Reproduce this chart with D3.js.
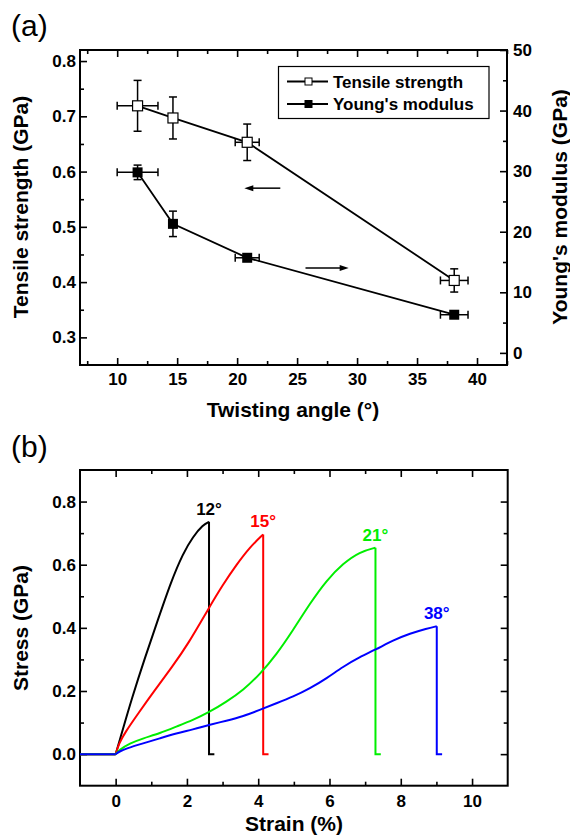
<!DOCTYPE html>
<html>
<head>
<meta charset="utf-8">
<script src="https://cdn.jsdelivr.net/npm/d3@7"></script>
<style>
  body { margin: 0; background: #fff; }
  svg { display: block; font-family: "Liberation Sans", Arial, sans-serif; }
</style>
</head>
<body>
<svg id="chart" width="570" height="836"></svg>
<script>
// panel (a) data
var angles = [11.7, 14.65, 20.84, 38.1];
var angleErr = [1.7, 0.3, 1.0, 1.15];
var tensile = [0.719, 0.697, 0.653, 0.403];
var tensileErr = [0.046, 0.038, 0.033, 0.021];
var modulus = [29.8, 21.3, 15.7, 6.3];
var modulusErr = [1.2, 2.1, 0.4, 0.4];
var legendLabels = ["Tensile strength", "Young's modulus"];

// panel (b) data: stress-strain curves
var curveLabels = ["12°", "15°", "21°", "38°"];
var curveColors = ["#000000", "#ff0000", "#00ee00", "#0000ff"];
var strain12 = [0, 0.17, 0.45, 0.82, 1.2, 1.55, 1.89, 2.17, 2.45, 2.62];
var stress12 = [0, 0.066, 0.175, 0.305, 0.43, 0.545, 0.636, 0.689, 0.726, 0.736];
var strain15 = [0, 0.1, 0.26, 0.64, 1.1, 1.57, 2.04, 2.6, 3.01, 3.39, 3.76, 4.14];
var stress15 = [0, 0.035, 0.068, 0.13, 0.203, 0.274, 0.35, 0.46, 0.537, 0.6, 0.655, 0.696];
var strain21 = [0, 0.1, 0.39, 0.77, 1.24, 1.7, 2.17, 2.61, 3.11, 3.58, 4.04, 4.51, 4.98, 5.45, 5.92, 6.38, 6.85, 7.29];
var stress21 = [0, 0.013, 0.034, 0.05, 0.066, 0.087, 0.108, 0.132, 0.166, 0.203, 0.252, 0.315, 0.393, 0.477, 0.551, 0.604, 0.641, 0.654];
var strain38 = [0, 0.1, 0.3, 0.77, 1.24, 1.7, 2.17, 2.61, 3.11, 3.58, 4.04, 4.51, 4.98, 5.45, 5.92, 6.38, 6.85, 7.28, 7.79, 8.26, 8.73, 9.01];
var stress38 = [0, 0.008, 0.018, 0.034, 0.05, 0.066, 0.078, 0.092, 0.106, 0.12, 0.14, 0.161, 0.182, 0.208, 0.24, 0.277, 0.308, 0.33, 0.361, 0.382, 0.398, 0.405];
var strains = [strain12, strain15, strain21, strain38];
var stresses = [stress12, stress15, stress21, stress38];
var tail = 0.15; // short flat piece after fracture

var svg = d3.select("#chart");
var FONT = "'Liberation Sans', Arial, sans-serif";

function styleAxis(g) {
  g.select(".domain").remove();
  g.selectAll("line").attr("stroke", "#000").attr("stroke-width", 1.6);
  g.selectAll("text").attr("font-size", 17).attr("font-weight", "bold")
    .attr("font-family", FONT).attr("fill", "#000");
}

// ---------- panel (a) ----------
var xa = d3.scaleLinear().domain([6.9, 42.5]).range([80, 507]);
var ya = d3.scaleLinear().domain([0.25, 0.82]).range([365, 50]);
var yr = d3.scaleLinear().domain([-2, 50]).range([365, 50]);

var a = svg.append("g");

a.append("g").attr("transform", "translate(0,365)")
  .call(d3.axisBottom(xa).tickValues([10, 15, 20, 25, 30, 35, 40]).tickSize(-7).tickPadding(8))
  .call(styleAxis);
a.append("g").attr("transform", "translate(0,365)")
  .call(d3.axisBottom(xa).tickValues([7.5, 12.5, 17.5, 22.5, 27.5, 32.5, 37.5, 42.5]).tickSize(-4).tickFormat(""))
  .call(styleAxis);
a.append("g").attr("transform", "translate(0,50)")
  .call(d3.axisTop(xa).tickValues([10, 15, 20, 25, 30, 35, 40]).tickSize(-7).tickFormat(""))
  .call(styleAxis);
a.append("g").attr("transform", "translate(0,50)")
  .call(d3.axisTop(xa).tickValues([7.5, 12.5, 17.5, 22.5, 27.5, 32.5, 37.5, 42.5]).tickSize(-4).tickFormat(""))
  .call(styleAxis);
a.append("g").attr("transform", "translate(80,0)")
  .call(d3.axisLeft(ya).tickValues([0.3, 0.4, 0.5, 0.6, 0.7, 0.8]).tickSize(-7).tickPadding(4).tickFormat(d3.format(".1f")))
  .call(styleAxis);
a.append("g").attr("transform", "translate(80,0)")
  .call(d3.axisLeft(ya).tickValues([0.35, 0.45, 0.55, 0.65, 0.75]).tickSize(-4).tickFormat(""))
  .call(styleAxis);
a.append("g").attr("transform", "translate(507,0)")
  .call(d3.axisRight(yr).tickValues([0, 10, 20, 30, 40, 50]).tickSize(-7).tickPadding(6))
  .call(styleAxis);
a.append("g").attr("transform", "translate(507,0)")
  .call(d3.axisRight(yr).tickValues([5, 15, 25, 35, 45]).tickSize(-4).tickFormat(""))
  .call(styleAxis);

a.append("rect").attr("x", 80).attr("y", 50).attr("width", 427).attr("height", 315)
  .attr("fill", "none").attr("stroke", "#000").attr("stroke-width", 2);

// series lines
var tLine = d3.line().x(function (d, i) { return xa(angles[i]); }).y(function (d) { return ya(d); });
var mLine = d3.line().x(function (d, i) { return xa(angles[i]); }).y(function (d) { return yr(d); });
a.append("path").attr("d", tLine(tensile)).attr("fill", "none").attr("stroke", "#000").attr("stroke-width", 1.8);
a.append("path").attr("d", mLine(modulus)).attr("fill", "none").attr("stroke", "#000").attr("stroke-width", 1.8);

function errorBars(g, vals, errs, ys) {
  vals.forEach(function (v, i) {
    var cx = xa(angles[i]), cy = ys(v);
    var y0 = ys(v - errs[i]), y1 = ys(v + errs[i]);
    var x0 = xa(angles[i] - angleErr[i]), x1 = xa(angles[i] + angleErr[i]);
    var segs = [
      [cx, y0, cx, y1], [cx - 4, y0, cx + 4, y0], [cx - 4, y1, cx + 4, y1],
      [x0, cy, x1, cy], [x0, cy - 4, x0, cy + 4], [x1, cy - 4, x1, cy + 4]
    ];
    segs.forEach(function (s) {
      g.append("line").attr("x1", s[0]).attr("y1", s[1]).attr("x2", s[2]).attr("y2", s[3])
        .attr("stroke", "#000").attr("stroke-width", 1.5);
    });
  });
}
errorBars(a, tensile, tensileErr, ya);
errorBars(a, modulus, modulusErr, yr);

a.selectAll(".tsq").data(tensile).enter().append("rect")
  .attr("x", function (d, i) { return xa(angles[i]) - 5; })
  .attr("y", function (d) { return ya(d) - 5; })
  .attr("width", 10).attr("height", 10)
  .attr("fill", "#fff").attr("stroke", "#000").attr("stroke-width", 1.2);
a.selectAll(".msq").data(modulus).enter().append("rect")
  .attr("x", function (d, i) { return xa(angles[i]) - 5; })
  .attr("y", function (d) { return yr(d) - 5; })
  .attr("width", 10).attr("height", 10)
  .attr("fill", "#000");

// arrows pointing to the axis of each series
function arrow(g, xFrom, xTo, y) {
  var dir = xTo > xFrom ? 1 : -1;
  g.append("line").attr("x1", xFrom).attr("y1", y).attr("x2", xTo - dir * 6).attr("y2", y)
    .attr("stroke", "#000").attr("stroke-width", 1.5);
  g.append("path")
    .attr("d", "M" + xTo + "," + y + "L" + (xTo - dir * 9) + "," + (y - 3) + "L" + (xTo - dir * 9) + "," + (y + 3) + "Z")
    .attr("fill", "#000");
}
arrow(a, xa(23.6), xa(20.6), ya(0.57));
arrow(a, xa(25.7), xa(29.3), yr(14.0));

// legend
var lg = a.append("g");
lg.append("rect").attr("x", 278.5).attr("y", 66.5).attr("width", 210.5).attr("height", 52)
  .attr("fill", "#fff").attr("stroke", "#000").attr("stroke-width", 1.2);
legendLabels.forEach(function (lab, i) {
  var cy = 81.5 + i * 22.5;
  lg.append("line").attr("x1", 287).attr("x2", 328).attr("y1", cy).attr("y2", cy)
    .attr("stroke", "#000").attr("stroke-width", 1.8);
  lg.append("rect").attr("x", 305).attr("y", cy - 3.5).attr("width", 7).attr("height", 7)
    .attr("fill", i === 0 ? "#fff" : "#000").attr("stroke", "#000").attr("stroke-width", 1);
  lg.append("text").attr("x", 333).attr("y", cy + 6).text(lab)
    .attr("font-size", 17).attr("font-weight", "bold");
});

// titles
svg.append("text").attr("x", 11).attr("y", 36).text("(a)").attr("font-size", 30);
svg.append("text").attr("x", 293).attr("y", 417).attr("text-anchor", "middle")
  .attr("font-size", 21).attr("font-weight", "bold").text("Twisting angle (°)");
svg.append("text").attr("transform", "translate(28,207) rotate(-90)").attr("text-anchor", "middle")
  .attr("font-size", 21).attr("font-weight", "bold").text("Tensile strength (GPa)");
svg.append("text").attr("transform", "translate(567,207) rotate(-90)").attr("text-anchor", "middle")
  .attr("font-size", 21).attr("font-weight", "bold").text("Young's modulus (GPa)");

// ---------- panel (b) ----------
var xb = d3.scaleLinear().domain([-1, 11]).range([80, 507.7]);
var yb = d3.scaleLinear().domain([-0.1, 0.9]).range([785.7, 470]);
var b = svg.append("g");

b.append("g").attr("transform", "translate(0,785.7)")
  .call(d3.axisBottom(xb).tickValues([0, 2, 4, 6, 8, 10]).tickSize(-7).tickPadding(9))
  .call(styleAxis);
b.append("g").attr("transform", "translate(0,785.7)")
  .call(d3.axisBottom(xb).tickValues([1, 3, 5, 7, 9]).tickSize(-4).tickFormat(""))
  .call(styleAxis);
b.append("g").attr("transform", "translate(0,470)")
  .call(d3.axisTop(xb).tickValues([0, 2, 4, 6, 8, 10]).tickSize(-7).tickFormat(""))
  .call(styleAxis);
b.append("g").attr("transform", "translate(0,470)")
  .call(d3.axisTop(xb).tickValues([1, 3, 5, 7, 9]).tickSize(-4).tickFormat(""))
  .call(styleAxis);
b.append("g").attr("transform", "translate(80,0)")
  .call(d3.axisLeft(yb).tickValues([0, 0.2, 0.4, 0.6, 0.8]).tickSize(-7).tickPadding(4).tickFormat(d3.format(".1f")))
  .call(styleAxis);
b.append("g").attr("transform", "translate(80,0)")
  .call(d3.axisLeft(yb).tickValues([0.1, 0.3, 0.5, 0.7]).tickSize(-4).tickFormat(""))
  .call(styleAxis);
b.append("g").attr("transform", "translate(507.7,0)")
  .call(d3.axisRight(yb).tickValues([0, 0.2, 0.4, 0.6, 0.8]).tickSize(-7).tickFormat(""))
  .call(styleAxis);
b.append("g").attr("transform", "translate(507.7,0)")
  .call(d3.axisRight(yb).tickValues([0.1, 0.3, 0.5, 0.7]).tickSize(-4).tickFormat(""))
  .call(styleAxis);

b.append("rect").attr("x", 80).attr("y", 470).attr("width", 427.7).attr("height", 315.7)
  .attr("fill", "none").attr("stroke", "#000").attr("stroke-width", 2);

var rise = d3.line().curve(d3.curveBasis)
  .x(function (d) { return xb(d[0]); }).y(function (d) { return yb(d[1]); });
var straight = d3.line().x(function (d) { return xb(d[0]); }).y(function (d) { return yb(d[1]); });

strains.forEach(function (sx, k) {
  var pts = sx.map(function (s, i) { return [s, stresses[k][i]]; });
  var peak = pts[pts.length - 1];
  var col = curveColors[k];
  b.append("path").attr("d", straight([[-1, 0], [0, 0]])).attr("fill", "none")
    .attr("stroke", col).attr("stroke-width", 2);
  b.append("path").attr("d", rise(pts)).attr("fill", "none")
    .attr("stroke", col).attr("stroke-width", 2);
  b.append("path").attr("d", straight([peak, [peak[0], 0], [peak[0] + tail, 0]])).attr("fill", "none")
    .attr("stroke", col).attr("stroke-width", 2);
  b.append("text").attr("x", xb(peak[0])).attr("y", yb(peak[1]) - 7)
    .attr("text-anchor", "middle").attr("font-size", 17).attr("font-weight", "bold")
    .attr("fill", col).text(curveLabels[k]);
});

svg.append("text").attr("x", 11).attr("y", 457).text("(b)").attr("font-size", 30);
svg.append("text").attr("x", 294).attr("y", 831).attr("text-anchor", "middle")
  .attr("font-size", 21).attr("font-weight", "bold").text("Strain (%)");
svg.append("text").attr("transform", "translate(28,628) rotate(-90)").attr("text-anchor", "middle")
  .attr("font-size", 21).attr("font-weight", "bold").text("Stress (GPa)");
</script>
</body>
</html>
